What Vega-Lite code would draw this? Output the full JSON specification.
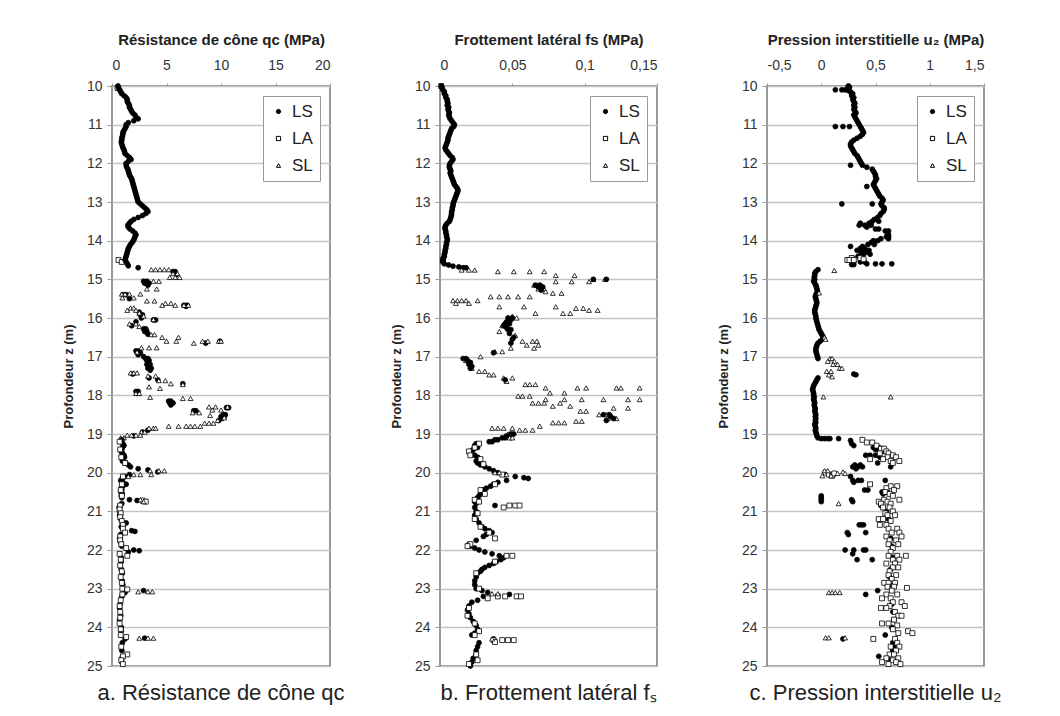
{
"$schema":"https://vega.github.io/schema/vega-lite/v6.json",
"background":"white",
"padding":{"left":61,"top":31,"right":5,"bottom":5},
"bounds":"flush",
"config":{
"font":"Liberation Sans",
"view":{"stroke":"#777","strokeWidth":1.5},
"axis":{"labelFont":"Liberation Sans","labelFontSize":14,"labelColor":"#333","titleFont":"Liberation Sans","titleFontSize":13,"titleFontWeight":"bold","titleColor":"#222","tickColor":"#999","domain":false},
"axisX":{"grid":false,"tickSize":3,"labelPadding":11,"titlePadding":11,"titleFontSize":15},
"axisY":{"grid":true,"gridColor":"#c4c4c4","gridWidth":1.5,"tickSize":5,"labelPadding":5,"titlePadding":11},
"legend":{"padding":7,"strokeColor":"#999","fillColor":"white","labelFont":"Liberation Sans","labelFontSize":17,"labelColor":"#222","symbolSize":18,"rowPadding":9,"symbolStrokeColor":"black","symbolStrokeWidth":1,"labelOffset":5,"cornerRadius":0},
"title":{"font":"Liberation Sans","fontSize":22,"fontWeight":"normal","color":"#222"}
},
"datasets":{
"a":[
{"s":"LA","z":10.05,"v":0.5},{"s":"LA","z":14.5,"v":0.6},{"s":"LA","z":14.55,"v":0.9},
{"s":"LS","z":10,"v":0.55},{"s":"LS","z":10.05,"v":0.6},{"s":"LS","z":10.1,"v":0.7},{"s":"LS","z":10.15,"v":0.8},{"s":"LS","z":10.2,"v":0.9},{"s":"LS","z":10.25,"v":1.1},{"s":"LS","z":10.3,"v":1.3},{"s":"LS","z":10.35,"v":1.4},{"s":"LS","z":10.4,"v":1.4},{"s":"LS","z":10.45,"v":1.5},{"s":"LS","z":10.5,"v":1.6},{"s":"LS","z":10.55,"v":1.6},{"s":"LS","z":10.6,"v":1.7},{"s":"LS","z":10.65,"v":1.8},{"s":"LS","z":10.7,"v":1.9},{"s":"LS","z":10.75,"v":2.1},{"s":"LS","z":10.8,"v":2.2},{"s":"LS","z":10.85,"v":2.4},{"s":"LS","z":10.9,"v":2.0},{"s":"LS","z":10.95,"v":1.5},{"s":"LS","z":11,"v":1.3},{"s":"LS","z":11.05,"v":1.3},{"s":"LS","z":11.1,"v":1.2},{"s":"LS","z":11.15,"v":1.1},{"s":"LS","z":11.2,"v":1.0},{"s":"LS","z":11.25,"v":1.0},{"s":"LS","z":11.3,"v":0.95},{"s":"LS","z":11.35,"v":0.9},{"s":"LS","z":11.4,"v":0.9},{"s":"LS","z":11.45,"v":0.85},{"s":"LS","z":11.5,"v":0.9},{"s":"LS","z":11.55,"v":0.95},{"s":"LS","z":11.6,"v":1.0},{"s":"LS","z":11.65,"v":1.1},{"s":"LS","z":11.7,"v":1.15},{"s":"LS","z":11.75,"v":1.2},{"s":"LS","z":11.8,"v":1.4},{"s":"LS","z":11.85,"v":1.6},{"s":"LS","z":11.9,"v":1.75},{"s":"LS","z":11.95,"v":1.5},{"s":"LS","z":12,"v":1.3},{"s":"LS","z":12.05,"v":1.3},{"s":"LS","z":12.1,"v":1.35},{"s":"LS","z":12.15,"v":1.45},{"s":"LS","z":12.2,"v":1.5},{"s":"LS","z":12.25,"v":1.55},{"s":"LS","z":12.3,"v":1.6},{"s":"LS","z":12.35,"v":1.7},{"s":"LS","z":12.4,"v":1.8},{"s":"LS","z":12.45,"v":1.85},{"s":"LS","z":12.5,"v":1.9},{"s":"LS","z":12.55,"v":1.95},{"s":"LS","z":12.6,"v":2.0},{"s":"LS","z":12.65,"v":2.05},{"s":"LS","z":12.7,"v":2.1},{"s":"LS","z":12.75,"v":2.15},{"s":"LS","z":12.8,"v":2.2},{"s":"LS","z":12.85,"v":2.25},{"s":"LS","z":12.9,"v":2.3},{"s":"LS","z":12.95,"v":2.35},{"s":"LS","z":13,"v":2.4},{"s":"LS","z":13.05,"v":2.6},{"s":"LS","z":13.1,"v":2.8},{"s":"LS","z":13.15,"v":3.0},{"s":"LS","z":13.2,"v":3.2},{"s":"LS","z":13.25,"v":3.3},{"s":"LS","z":13.3,"v":3.1},{"s":"LS","z":13.35,"v":2.8},{"s":"LS","z":13.4,"v":2.4},{"s":"LS","z":13.45,"v":2.0},{"s":"LS","z":13.5,"v":1.75},{"s":"LS","z":13.55,"v":1.6},{"s":"LS","z":13.6,"v":1.45},{"s":"LS","z":13.65,"v":1.5},{"s":"LS","z":13.7,"v":1.65},{"s":"LS","z":13.75,"v":1.9},{"s":"LS","z":13.8,"v":2.1},{"s":"LS","z":13.85,"v":2.2},{"s":"LS","z":13.9,"v":2.1},{"s":"LS","z":13.95,"v":2.05},{"s":"LS","z":14,"v":1.95},{"s":"LS","z":14.05,"v":1.85},{"s":"LS","z":14.1,"v":1.7},{"s":"LS","z":14.15,"v":1.6},{"s":"LS","z":14.2,"v":1.5},{"s":"LS","z":14.25,"v":1.45},{"s":"LS","z":14.3,"v":1.4},{"s":"LS","z":14.35,"v":1.35},{"s":"LS","z":14.4,"v":1.3},{"s":"LS","z":14.45,"v":1.25},{"s":"LS","z":14.5,"v":1.2},{"s":"LS","z":14.55,"v":1.3},{"s":"LS","z":14.6,"v":1.4},{"s":"LS","z":14.65,"v":1.5},{"s":"LS","z":14.7,"v":2.4},
{"s":"LS","z":14.8,"v":5.8},{"s":"LS","z":14.8,"v":5.6},{"s":"LS","z":14.88,"v":5.9},{"s":"LS","z":15.05,"v":2.9},{"s":"LS","z":15.05,"v":3.2},{"s":"LS","z":15.1,"v":3.0},{"s":"LS","z":15.1,"v":3.4},{"s":"LS","z":15.15,"v":3.3},{"s":"LS","z":15.4,"v":1.0},{"s":"LS","z":15.4,"v":1.3},{"s":"LS","z":15.5,"v":1.6},{"s":"LS","z":15.67,"v":6.6},{"s":"LS","z":15.67,"v":6.9},{"s":"LS","z":15.7,"v":6.8},{"s":"LS","z":15.85,"v":2.5},{"s":"LS","z":15.92,"v":2.6},{"s":"LS","z":15.92,"v":2.8},{"s":"LS","z":16,"v":2.7},{"s":"LS","z":16.05,"v":3.8},{"s":"LS","z":16.05,"v":4.0},{"s":"LS","z":16.1,"v":2.2},{"s":"LS","z":16.2,"v":1.8},{"s":"LS","z":16.28,"v":2.9},{"s":"LS","z":16.28,"v":3.1},{"s":"LS","z":16.35,"v":3.0},{"s":"LS","z":16.35,"v":3.2},{"s":"LS","z":16.42,"v":3.3},{"s":"LS","z":16.6,"v":9.9},{"s":"LS","z":16.65,"v":8.6},{"s":"LS","z":16.85,"v":2.2},{"s":"LS","z":16.85,"v":2.5},{"s":"LS","z":16.9,"v":2.3},{"s":"LS","z":16.9,"v":2.6},{"s":"LS","z":16.95,"v":2.4},{"s":"LS","z":17,"v":2.9},{"s":"LS","z":17.05,"v":3.1},{"s":"LS","z":17.05,"v":3.3},{"s":"LS","z":17.1,"v":3.2},{"s":"LS","z":17.1,"v":3.4},{"s":"LS","z":17.15,"v":3.3},{"s":"LS","z":17.2,"v":3.5},{"s":"LS","z":17.2,"v":3.2},{"s":"LS","z":17.25,"v":3.4},{"s":"LS","z":17.3,"v":3.6},{"s":"LS","z":17.3,"v":3.3},{"s":"LS","z":17.35,"v":3.5},{"s":"LS","z":17.45,"v":1.9},{"s":"LS","z":17.55,"v":3.4},{"s":"LS","z":17.6,"v":4.2},{"s":"LS","z":17.7,"v":6.5},{"s":"LS","z":17.9,"v":2.2},{"s":"LS","z":17.9,"v":2.4},{"s":"LS","z":17.95,"v":2.3},{"s":"LS","z":18.15,"v":5.2},{"s":"LS","z":18.15,"v":5.4},{"s":"LS","z":18.2,"v":5.3},{"s":"LS","z":18.2,"v":5.6},{"s":"LS","z":18.25,"v":5.4},{"s":"LS","z":18.32,"v":10.5},{"s":"LS","z":18.32,"v":10.7},{"s":"LS","z":18.4,"v":7.5},{"s":"LS","z":18.4,"v":7.7},{"s":"LS","z":18.5,"v":10.2},{"s":"LS","z":18.5,"v":10.4},{"s":"LS","z":18.55,"v":10.0},{"s":"LS","z":18.55,"v":10.3},{"s":"LS","z":18.6,"v":10.1},{"s":"LS","z":18.65,"v":9.8},{"s":"LS","z":18.9,"v":3.3},{"s":"LS","z":18.95,"v":2.8},{"s":"LS","z":19.05,"v":2.0},
{"s":"SL","z":14.75,"v":3.6},{"s":"SL","z":14.75,"v":4.0},{"s":"SL","z":14.75,"v":4.4},{"s":"SL","z":14.75,"v":4.8},{"s":"SL","z":14.75,"v":5.2},{"s":"SL","z":14.85,"v":5.6},{"s":"SL","z":14.85,"v":6.0},{"s":"SL","z":14.95,"v":5.3},{"s":"SL","z":14.95,"v":5.8},{"s":"SL","z":14.95,"v":6.2},{"s":"SL","z":15.05,"v":3.8},{"s":"SL","z":15.05,"v":4.3},{"s":"SL","z":15.25,"v":3.2},{"s":"SL","z":15.25,"v":4.1},{"s":"SL","z":15.38,"v":0.9},{"s":"SL","z":15.38,"v":1.2},{"s":"SL","z":15.38,"v":1.6},{"s":"SL","z":15.38,"v":2.6},{"s":"SL","z":15.48,"v":0.95},{"s":"SL","z":15.48,"v":2.0},{"s":"SL","z":15.56,"v":3.2},{"s":"SL","z":15.56,"v":3.9},{"s":"SL","z":15.62,"v":4.9},{"s":"SL","z":15.62,"v":5.4},{"s":"SL","z":15.67,"v":4.6},{"s":"SL","z":15.67,"v":5.8},{"s":"SL","z":15.67,"v":6.6},{"s":"SL","z":15.67,"v":7.0},{"s":"SL","z":15.74,"v":1.7},{"s":"SL","z":15.74,"v":2.0},{"s":"SL","z":15.8,"v":1.4},{"s":"SL","z":15.8,"v":2.2},{"s":"SL","z":15.87,"v":2.5},{"s":"SL","z":15.95,"v":2.9},{"s":"SL","z":16.04,"v":3.8},{"s":"SL","z":16.15,"v":1.6},{"s":"SL","z":16.15,"v":2.2},{"s":"SL","z":16.22,"v":2.5},{"s":"SL","z":16.43,"v":3.6},{"s":"SL","z":16.43,"v":3.9},{"s":"SL","z":16.5,"v":4.6},{"s":"SL","z":16.5,"v":6.1},{"s":"SL","z":16.6,"v":5.0},{"s":"SL","z":16.6,"v":5.9},{"s":"SL","z":16.6,"v":8.3},{"s":"SL","z":16.6,"v":8.8},{"s":"SL","z":16.6,"v":9.8},{"s":"SL","z":16.6,"v":10.0},{"s":"SL","z":16.65,"v":7.5},{"s":"SL","z":16.77,"v":2.7},{"s":"SL","z":16.77,"v":3.4},{"s":"SL","z":16.77,"v":4.1},{"s":"SL","z":16.88,"v":2.3},{"s":"SL","z":17.42,"v":1.7},{"s":"SL","z":17.42,"v":2.0},{"s":"SL","z":17.42,"v":2.3},{"s":"SL","z":17.5,"v":3.3},{"s":"SL","z":17.5,"v":4.0},{"s":"SL","z":17.62,"v":4.3},{"s":"SL","z":17.62,"v":4.9},{"s":"SL","z":17.7,"v":5.4},{"s":"SL","z":17.72,"v":6.5},{"s":"SL","z":17.78,"v":3.4},{"s":"SL","z":17.82,"v":4.4},{"s":"SL","z":17.95,"v":2.2},{"s":"SL","z":17.95,"v":2.5},{"s":"SL","z":18.05,"v":3.5},{"s":"SL","z":18.08,"v":6.5},{"s":"SL","z":18.08,"v":7.2},{"s":"SL","z":18.3,"v":8.9},{"s":"SL","z":18.3,"v":9.5},{"s":"SL","z":18.3,"v":10.6},{"s":"SL","z":18.38,"v":9.2},{"s":"SL","z":18.38,"v":10.0},{"s":"SL","z":18.45,"v":7.4},{"s":"SL","z":18.45,"v":8.0},{"s":"SL","z":18.52,"v":9.0},{"s":"SL","z":18.58,"v":10.3},{"s":"SL","z":18.65,"v":9.7},{"s":"SL","z":18.72,"v":8.5},{"s":"SL","z":18.72,"v":8.9},{"s":"SL","z":18.72,"v":9.3},{"s":"SL","z":18.8,"v":5.2},{"s":"SL","z":18.8,"v":6.1},{"s":"SL","z":18.8,"v":6.8},{"s":"SL","z":18.8,"v":7.2},{"s":"SL","z":18.8,"v":7.6},{"s":"SL","z":18.8,"v":8.1},{"s":"SL","z":18.85,"v":3.4},{"s":"SL","z":18.85,"v":3.8},{"s":"SL","z":18.85,"v":4.0},{"s":"SL","z":18.95,"v":2.7},{"s":"SL","z":18.95,"v":3.0},{"s":"SL","z":19.03,"v":1.4},{"s":"SL","z":19.03,"v":1.8},{"s":"SL","z":19.03,"v":2.2},{"s":"SL","z":19.03,"v":2.6},{"s":"SL","z":19.1,"v":0.8},{"s":"SL","z":19.1,"v":1.1},
{"s":"LS","z":19.15,"v":0.9},{"s":"LS","z":19.2,"v":0.85},{"s":"LS","z":19.25,"v":1.0},{"s":"LS","z":19.3,"v":1.1},{"s":"LS","z":19.35,"v":0.95},{"s":"LS","z":19.4,"v":0.9},{"s":"LS","z":19.45,"v":0.85},{"s":"LS","z":19.5,"v":0.95},{"s":"LS","z":19.55,"v":1.1},{"s":"LS","z":19.6,"v":1.15},{"s":"LS","z":19.65,"v":1.0},{"s":"LS","z":19.7,"v":0.95},{"s":"LS","z":19.75,"v":1.25},{"s":"LS","z":19.8,"v":1.5},{"s":"LS","z":19.85,"v":1.7},{"s":"LS","z":19.9,"v":2.4},{"s":"LS","z":19.93,"v":3.3},{"s":"LS","z":19.98,"v":4.2},{"s":"LS","z":20.05,"v":1.6},{"s":"LS","z":20.1,"v":1.2},{"s":"LS","z":20.15,"v":0.95},{"s":"LS","z":20.2,"v":0.8},{"s":"LS","z":20.25,"v":1.0},{"s":"LS","z":20.3,"v":1.3},{"s":"LS","z":20.35,"v":1.0},{"s":"LS","z":20.4,"v":0.85},{"s":"LS","z":20.45,"v":0.9},{"s":"LS","z":20.5,"v":0.8},{"s":"LS","z":20.55,"v":0.95},{"s":"LS","z":20.6,"v":0.85},{"s":"LS","z":20.65,"v":0.9},{"s":"LS","z":20.7,"v":1.6},{"s":"LS","z":20.72,"v":2.3},{"s":"LS","z":20.8,"v":0.9},{"s":"LS","z":20.9,"v":0.65},{"s":"LS","z":21,"v":0.7},{"s":"LS","z":21.1,"v":0.7},{"s":"LS","z":21.2,"v":0.8},{"s":"LS","z":21.3,"v":1.3},{"s":"LS","z":21.4,"v":0.85},{"s":"LS","z":21.5,"v":1.8},{"s":"LS","z":21.52,"v":2.1},{"s":"LS","z":21.6,"v":0.8},{"s":"LS","z":21.7,"v":0.7},{"s":"LS","z":21.8,"v":0.8},{"s":"LS","z":21.9,"v":0.9},{"s":"LS","z":22,"v":2.0},{"s":"LS","z":22.02,"v":2.5},{"s":"LS","z":22.05,"v":1.5},{"s":"LS","z":22.2,"v":0.85},{"s":"LS","z":22.3,"v":0.85},{"s":"LS","z":22.5,"v":0.85},{"s":"LS","z":22.6,"v":0.95},{"s":"LS","z":22.8,"v":0.95},{"s":"LS","z":22.9,"v":1.0},{"s":"LS","z":23.05,"v":2.9},{"s":"LS","z":23.1,"v":1.2},{"s":"LS","z":23.2,"v":0.9},{"s":"LS","z":23.4,"v":0.75},{"s":"LS","z":23.5,"v":0.7},{"s":"LS","z":23.7,"v":0.8},{"s":"LS","z":23.8,"v":0.7},{"s":"LS","z":24,"v":0.85},{"s":"LS","z":24.1,"v":0.85},{"s":"LS","z":24.3,"v":1.2},{"s":"LS","z":24.28,"v":3.0},{"s":"LS","z":24.4,"v":0.95},{"s":"LS","z":24.6,"v":0.9},{"s":"LS","z":24.8,"v":0.9},{"s":"LS","z":24.9,"v":0.9},
{"s":"LA","z":19.2,"v":0.7},{"s":"LA","z":19.4,"v":0.75},{"s":"LA","z":19.6,"v":0.85},{"s":"LA","z":19.75,"v":1.2},{"s":"LA","z":20.1,"v":1.0},{"s":"LA","z":20.3,"v":0.9},{"s":"LA","z":20.45,"v":0.8},{"s":"LA","z":20.6,"v":0.9},{"s":"LA","z":20.72,"v":2.8},{"s":"LA","z":20.75,"v":3.1},{"s":"LA","z":20.85,"v":0.75},{"s":"LA","z":20.95,"v":0.7},{"s":"LA","z":21.05,"v":0.8},{"s":"LA","z":21.15,"v":0.75},{"s":"LA","z":21.25,"v":0.9},{"s":"LA","z":21.35,"v":1.0},{"s":"LA","z":21.45,"v":1.0},{"s":"LA","z":21.55,"v":1.2},{"s":"LA","z":21.65,"v":0.75},{"s":"LA","z":21.75,"v":0.75},{"s":"LA","z":21.85,"v":0.85},{"s":"LA","z":21.95,"v":1.3},{"s":"LA","z":22.1,"v":0.7},{"s":"LA","z":22.15,"v":1.4},{"s":"LA","z":22.25,"v":0.8},{"s":"LA","z":22.4,"v":0.75},{"s":"LA","z":22.55,"v":0.9},{"s":"LA","z":22.7,"v":0.8},{"s":"LA","z":22.85,"v":0.9},{"s":"LA","z":23,"v":0.95},{"s":"LA","z":23.02,"v":1.4},{"s":"LA","z":23.15,"v":0.95},{"s":"LA","z":23.3,"v":0.8},{"s":"LA","z":23.45,"v":0.7},{"s":"LA","z":23.6,"v":0.75},{"s":"LA","z":23.75,"v":0.75},{"s":"LA","z":23.9,"v":0.7},{"s":"LA","z":24.05,"v":0.8},{"s":"LA","z":24.2,"v":0.8},{"s":"LA","z":24.25,"v":1.3},{"s":"LA","z":24.5,"v":0.85},{"s":"LA","z":24.7,"v":1.4},{"s":"LA","z":24.75,"v":1.0},{"s":"LA","z":24.85,"v":0.85},{"s":"LA","z":24.95,"v":1.0},
{"s":"SL","z":19.95,"v":3.5},{"s":"SL","z":19.95,"v":4.3},{"s":"SL","z":19.95,"v":4.8},{"s":"SL","z":20.05,"v":2.0},{"s":"SL","z":20.05,"v":2.6},{"s":"SL","z":20.05,"v":3.6},{"s":"SL","z":20.1,"v":1.5},{"s":"SL","z":20.7,"v":2.6},{"s":"SL","z":20.75,"v":2.9},{"s":"SL","z":23.08,"v":2.4},{"s":"SL","z":23.08,"v":3.3},{"s":"SL","z":23.08,"v":3.7},{"s":"SL","z":24.28,"v":2.5},{"s":"SL","z":24.28,"v":3.3},{"s":"SL","z":24.28,"v":3.8}
],
"b":[
{"s":"LA","z":10,"v":0.0008},{"s":"LA","z":14.5,"v":0.002},
{"s":"LS","z":10,"v":0.001},{"s":"LS","z":10.05,"v":0.0015},{"s":"LS","z":10.1,"v":0.002},{"s":"LS","z":10.15,"v":0.003},{"s":"LS","z":10.2,"v":0.003},{"s":"LS","z":10.25,"v":0.004},{"s":"LS","z":10.3,"v":0.004},{"s":"LS","z":10.35,"v":0.005},{"s":"LS","z":10.4,"v":0.005},{"s":"LS","z":10.45,"v":0.0055},{"s":"LS","z":10.5,"v":0.005},{"s":"LS","z":10.55,"v":0.006},{"s":"LS","z":10.6,"v":0.0055},{"s":"LS","z":10.65,"v":0.006},{"s":"LS","z":10.7,"v":0.0065},{"s":"LS","z":10.75,"v":0.006},{"s":"LS","z":10.8,"v":0.0065},{"s":"LS","z":10.85,"v":0.007},{"s":"LS","z":10.9,"v":0.008},{"s":"LS","z":10.95,"v":0.009},{"s":"LS","z":11,"v":0.01},{"s":"LS","z":11.05,"v":0.0095},{"s":"LS","z":11.1,"v":0.008},{"s":"LS","z":11.15,"v":0.0075},{"s":"LS","z":11.2,"v":0.007},{"s":"LS","z":11.25,"v":0.0065},{"s":"LS","z":11.3,"v":0.006},{"s":"LS","z":11.35,"v":0.0055},{"s":"LS","z":11.4,"v":0.0055},{"s":"LS","z":11.45,"v":0.005},{"s":"LS","z":11.5,"v":0.0045},{"s":"LS","z":11.55,"v":0.004},{"s":"LS","z":11.6,"v":0.0035},{"s":"LS","z":11.65,"v":0.004},{"s":"LS","z":11.7,"v":0.005},{"s":"LS","z":11.75,"v":0.006},{"s":"LS","z":11.8,"v":0.007},{"s":"LS","z":11.85,"v":0.0085},{"s":"LS","z":11.9,"v":0.009},{"s":"LS","z":11.95,"v":0.008},{"s":"LS","z":12,"v":0.007},{"s":"LS","z":12.05,"v":0.0065},{"s":"LS","z":12.1,"v":0.0065},{"s":"LS","z":12.15,"v":0.007},{"s":"LS","z":12.2,"v":0.0075},{"s":"LS","z":12.25,"v":0.007},{"s":"LS","z":12.3,"v":0.0075},{"s":"LS","z":12.35,"v":0.008},{"s":"LS","z":12.4,"v":0.0085},{"s":"LS","z":12.45,"v":0.009},{"s":"LS","z":12.5,"v":0.0095},{"s":"LS","z":12.55,"v":0.01},{"s":"LS","z":12.6,"v":0.011},{"s":"LS","z":12.65,"v":0.012},{"s":"LS","z":12.7,"v":0.0125},{"s":"LS","z":12.75,"v":0.012},{"s":"LS","z":12.8,"v":0.0115},{"s":"LS","z":12.85,"v":0.011},{"s":"LS","z":12.9,"v":0.0105},{"s":"LS","z":12.95,"v":0.01},{"s":"LS","z":13,"v":0.0095},{"s":"LS","z":13.05,"v":0.009},{"s":"LS","z":13.1,"v":0.009},{"s":"LS","z":13.15,"v":0.0085},{"s":"LS","z":13.2,"v":0.0085},{"s":"LS","z":13.25,"v":0.008},{"s":"LS","z":13.3,"v":0.008},{"s":"LS","z":13.35,"v":0.0078},{"s":"LS","z":13.4,"v":0.0075},{"s":"LS","z":13.45,"v":0.007},{"s":"LS","z":13.5,"v":0.0065},{"s":"LS","z":13.55,"v":0.005},{"s":"LS","z":13.6,"v":0.004},{"s":"LS","z":13.65,"v":0.0035},{"s":"LS","z":13.7,"v":0.0035},{"s":"LS","z":13.75,"v":0.004},{"s":"LS","z":13.8,"v":0.004},{"s":"LS","z":13.85,"v":0.0045},{"s":"LS","z":13.9,"v":0.0045},{"s":"LS","z":13.95,"v":0.005},{"s":"LS","z":14,"v":0.005},{"s":"LS","z":14.05,"v":0.0045},{"s":"LS","z":14.1,"v":0.0045},{"s":"LS","z":14.15,"v":0.004},{"s":"LS","z":14.2,"v":0.004},{"s":"LS","z":14.25,"v":0.0035},{"s":"LS","z":14.3,"v":0.0035},{"s":"LS","z":14.35,"v":0.003},{"s":"LS","z":14.4,"v":0.003},{"s":"LS","z":14.45,"v":0.0025},{"s":"LS","z":14.5,"v":0.002},{"s":"LS","z":14.55,"v":0.002},{"s":"LS","z":14.6,"v":0.003},{"s":"LS","z":14.63,"v":0.006},{"s":"LS","z":14.66,"v":0.009},{"s":"LS","z":14.68,"v":0.013},{"s":"LS","z":14.7,"v":0.016},{"s":"LS","z":14.7,"v":0.018},
{"s":"SL","z":14.76,"v":0.015},{"s":"SL","z":14.76,"v":0.02},{"s":"SL","z":14.76,"v":0.024},{"s":"SL","z":14.8,"v":0.04},{"s":"SL","z":14.8,"v":0.051},{"s":"SL","z":14.8,"v":0.062},{"s":"SL","z":14.8,"v":0.072},{"s":"SL","z":14.9,"v":0.08},{"s":"SL","z":14.9,"v":0.093},{"s":"SL","z":15,"v":0.106},{"s":"SL","z":15,"v":0.114},{"s":"SL","z":15.06,"v":0.08},{"s":"SL","z":15.06,"v":0.091},{"s":"SL","z":15.06,"v":0.103},{"s":"SL","z":15.15,"v":0.065},{"s":"SL","z":15.15,"v":0.07},{"s":"SL","z":15.25,"v":0.068},{"s":"SL","z":15.25,"v":0.072},{"s":"SL","z":15.32,"v":0.073},{"s":"SL","z":15.36,"v":0.078},{"s":"SL","z":15.36,"v":0.084},{"s":"SL","z":15.45,"v":0.035},{"s":"SL","z":15.45,"v":0.041},{"s":"SL","z":15.45,"v":0.047},{"s":"SL","z":15.45,"v":0.054},{"s":"SL","z":15.45,"v":0.062},{"s":"SL","z":15.55,"v":0.009},{"s":"SL","z":15.55,"v":0.012},{"s":"SL","z":15.55,"v":0.015},{"s":"SL","z":15.55,"v":0.018},{"s":"SL","z":15.55,"v":0.026},{"s":"SL","z":15.62,"v":0.011},{"s":"SL","z":15.62,"v":0.02},{"s":"SL","z":15.71,"v":0.041},{"s":"SL","z":15.71,"v":0.058},{"s":"SL","z":15.71,"v":0.08},{"s":"SL","z":15.75,"v":0.094},{"s":"SL","z":15.75,"v":0.099},{"s":"SL","z":15.8,"v":0.103},{"s":"SL","z":15.8,"v":0.109},{"s":"SL","z":15.88,"v":0.066},{"s":"SL","z":15.88,"v":0.085},{"s":"SL","z":15.88,"v":0.09},{"s":"SL","z":15.95,"v":0.05},{"s":"SL","z":16,"v":0.053},{"s":"SL","z":16.2,"v":0.043},{"s":"SL","z":16.35,"v":0.041},{"s":"SL","z":16.45,"v":0.052},{"s":"SL","z":16.6,"v":0.057},{"s":"SL","z":16.6,"v":0.064},{"s":"SL","z":16.6,"v":0.067},{"s":"SL","z":16.7,"v":0.06},{"s":"SL","z":16.7,"v":0.068},{"s":"SL","z":16.78,"v":0.049},{"s":"SL","z":16.78,"v":0.065},{"s":"SL","z":16.87,"v":0.038},{"s":"SL","z":16.87,"v":0.043},{"s":"SL","z":17,"v":0.028},{"s":"SL","z":17.1,"v":0.018},{"s":"SL","z":17.3,"v":0.022},{"s":"SL","z":17.38,"v":0.027},{"s":"SL","z":17.38,"v":0.031},{"s":"SL","z":17.47,"v":0.034},{"s":"SL","z":17.47,"v":0.037},{"s":"SL","z":17.55,"v":0.044},{"s":"SL","z":17.55,"v":0.05},{"s":"SL","z":17.64,"v":0.046},{"s":"SL","z":17.72,"v":0.059},{"s":"SL","z":17.72,"v":0.062},{"s":"SL","z":17.72,"v":0.066},{"s":"SL","z":17.81,"v":0.073},{"s":"SL","z":17.81,"v":0.095},{"s":"SL","z":17.81,"v":0.101},{"s":"SL","z":17.81,"v":0.122},{"s":"SL","z":17.81,"v":0.125},{"s":"SL","z":17.81,"v":0.138},{"s":"SL","z":17.94,"v":0.076},{"s":"SL","z":17.94,"v":0.086},{"s":"SL","z":18.02,"v":0.054},{"s":"SL","z":18.02,"v":0.057},{"s":"SL","z":18.02,"v":0.062},{"s":"SL","z":18.11,"v":0.073},{"s":"SL","z":18.11,"v":0.086},{"s":"SL","z":18.11,"v":0.098},{"s":"SL","z":18.11,"v":0.113},{"s":"SL","z":18.11,"v":0.13},{"s":"SL","z":18.11,"v":0.138},{"s":"SL","z":18.2,"v":0.064},{"s":"SL","z":18.2,"v":0.068},{"s":"SL","z":18.2,"v":0.072},{"s":"SL","z":18.2,"v":0.083},{"s":"SL","z":18.28,"v":0.078},{"s":"SL","z":18.28,"v":0.09},{"s":"SL","z":18.33,"v":0.12},{"s":"SL","z":18.33,"v":0.13},{"s":"SL","z":18.41,"v":0.097},{"s":"SL","z":18.41,"v":0.101},{"s":"SL","z":18.5,"v":0.11},{"s":"SL","z":18.5,"v":0.115},{"s":"SL","z":18.6,"v":0.116},{"s":"SL","z":18.6,"v":0.122},{"s":"SL","z":18.67,"v":0.094},{"s":"SL","z":18.67,"v":0.098},{"s":"SL","z":18.71,"v":0.078},{"s":"SL","z":18.71,"v":0.082},{"s":"SL","z":18.71,"v":0.086},{"s":"SL","z":18.8,"v":0.069},{"s":"SL","z":18.85,"v":0.036},{"s":"SL","z":18.85,"v":0.04},{"s":"SL","z":18.85,"v":0.044},{"s":"SL","z":18.85,"v":0.05},{"s":"SL","z":18.9,"v":0.055},{"s":"SL","z":18.9,"v":0.059},{"s":"SL","z":18.9,"v":0.064},{"s":"SL","z":19,"v":0.047},{"s":"SL","z":19.1,"v":0.048},
{"s":"LS","z":15,"v":0.106},{"s":"LS","z":15,"v":0.115},{"s":"LS","z":15.15,"v":0.066},{"s":"LS","z":15.15,"v":0.069},{"s":"LS","z":15.2,"v":0.068},{"s":"LS","z":15.2,"v":0.071},{"s":"LS","z":15.28,"v":0.07},{"s":"LS","z":16,"v":0.047},{"s":"LS","z":16,"v":0.05},{"s":"LS","z":16.05,"v":0.049},{"s":"LS","z":16.1,"v":0.046},{"s":"LS","z":16.15,"v":0.045},{"s":"LS","z":16.15,"v":0.048},{"s":"LS","z":16.2,"v":0.044},{"s":"LS","z":16.25,"v":0.046},{"s":"LS","z":16.3,"v":0.047},{"s":"LS","z":16.3,"v":0.049},{"s":"LS","z":16.4,"v":0.048},{"s":"LS","z":16.5,"v":0.051},{"s":"LS","z":16.55,"v":0.05},{"s":"LS","z":16.65,"v":0.049},{"s":"LS","z":16.9,"v":0.037},{"s":"LS","z":17.05,"v":0.016},{"s":"LS","z":17.05,"v":0.018},{"s":"LS","z":17.1,"v":0.019},{"s":"LS","z":17.15,"v":0.02},{"s":"LS","z":17.15,"v":0.021},{"s":"LS","z":17.2,"v":0.02},{"s":"LS","z":17.25,"v":0.022},{"s":"LS","z":17.3,"v":0.021},{"s":"LS","z":17.6,"v":0.045},{"s":"LS","z":18.5,"v":0.113},{"s":"LS","z":18.5,"v":0.117},{"s":"LS","z":18.55,"v":0.118},{"s":"LS","z":18.6,"v":0.12},{"s":"LS","z":18.65,"v":0.115},{"s":"LS","z":19,"v":0.049},{"s":"LS","z":19,"v":0.051},{"s":"LS","z":19.05,"v":0.046},{"s":"LS","z":19.1,"v":0.045},{"s":"LS","z":19.1,"v":0.043},{"s":"LS","z":19.15,"v":0.038},{"s":"LS","z":19.15,"v":0.04},{"s":"LS","z":19.2,"v":0.034},{"s":"LS","z":19.2,"v":0.036},
{"s":"LS","z":19.25,"v":0.025},{"s":"LS","z":19.3,"v":0.024},{"s":"LS","z":19.35,"v":0.026},{"s":"LS","z":19.4,"v":0.023},{"s":"LS","z":19.45,"v":0.021},{"s":"LS","z":19.5,"v":0.022},{"s":"LS","z":19.55,"v":0.024},{"s":"LS","z":19.6,"v":0.026},{"s":"LS","z":19.65,"v":0.027},{"s":"LS","z":19.7,"v":0.025},{"s":"LS","z":19.75,"v":0.026},{"s":"LS","z":19.8,"v":0.028},{"s":"LS","z":19.85,"v":0.031},{"s":"LS","z":19.9,"v":0.034},{"s":"LS","z":19.95,"v":0.037},{"s":"LS","z":20,"v":0.04},{"s":"LS","z":20.05,"v":0.045},{"s":"LS","z":20.1,"v":0.052},{"s":"LS","z":20.13,"v":0.058},{"s":"LS","z":20.15,"v":0.061},{"s":"LS","z":20.2,"v":0.046},{"s":"LS","z":20.25,"v":0.04},{"s":"LS","z":20.3,"v":0.037},{"s":"LS","z":20.35,"v":0.035},{"s":"LS","z":20.4,"v":0.032},{"s":"LS","z":20.45,"v":0.03},{"s":"LS","z":20.5,"v":0.029},{"s":"LS","z":20.55,"v":0.028},{"s":"LS","z":20.6,"v":0.027},{"s":"LS","z":20.65,"v":0.026},{"s":"LS","z":20.7,"v":0.025},{"s":"LS","z":20.75,"v":0.024},{"s":"LS","z":20.8,"v":0.025},{"s":"LS","z":20.85,"v":0.038},{"s":"LS","z":20.9,"v":0.024},{"s":"LS","z":21,"v":0.025},{"s":"LS","z":21.1,"v":0.024},{"s":"LS","z":21.2,"v":0.025},{"s":"LS","z":21.3,"v":0.027},{"s":"LS","z":21.4,"v":0.029},{"s":"LS","z":21.45,"v":0.031},{"s":"LS","z":21.5,"v":0.034},{"s":"LS","z":21.55,"v":0.036},{"s":"LS","z":21.6,"v":0.032},{"s":"LS","z":21.65,"v":0.03},{"s":"LS","z":21.75,"v":0.025},{"s":"LS","z":21.85,"v":0.02},{"s":"LS","z":21.9,"v":0.021},{"s":"LS","z":21.95,"v":0.024},{"s":"LS","z":22,"v":0.027},{"s":"LS","z":22.05,"v":0.031},{"s":"LS","z":22.1,"v":0.036},{"s":"LS","z":22.15,"v":0.041},{"s":"LS","z":22.2,"v":0.044},{"s":"LS","z":22.25,"v":0.042},{"s":"LS","z":22.3,"v":0.039},{"s":"LS","z":22.35,"v":0.037},{"s":"LS","z":22.4,"v":0.034},{"s":"LS","z":22.45,"v":0.031},{"s":"LS","z":22.5,"v":0.029},{"s":"LS","z":22.55,"v":0.028},{"s":"LS","z":22.6,"v":0.026},{"s":"LS","z":22.7,"v":0.025},{"s":"LS","z":22.8,"v":0.024},{"s":"LS","z":22.9,"v":0.024},{"s":"LS","z":23,"v":0.025},{"s":"LS","z":23.05,"v":0.029},{"s":"LS","z":23.1,"v":0.033},{"s":"LS","z":23.15,"v":0.048},{"s":"LS","z":23.2,"v":0.03},{"s":"LS","z":23.3,"v":0.026},{"s":"LS","z":23.35,"v":0.022},{"s":"LS","z":23.45,"v":0.02},{"s":"LS","z":23.55,"v":0.019},{"s":"LS","z":23.65,"v":0.02},{"s":"LS","z":23.75,"v":0.021},{"s":"LS","z":23.85,"v":0.023},{"s":"LS","z":23.95,"v":0.025},{"s":"LS","z":24.05,"v":0.026},{"s":"LS","z":24.15,"v":0.024},{"s":"LS","z":24.2,"v":0.022},{"s":"LS","z":24.3,"v":0.037},{"s":"LS","z":24.4,"v":0.027},{"s":"LS","z":24.5,"v":0.026},{"s":"LS","z":24.6,"v":0.025},{"s":"LS","z":24.7,"v":0.025},{"s":"LS","z":24.8,"v":0.023},{"s":"LS","z":24.9,"v":0.022},{"s":"LS","z":25,"v":0.021},
{"s":"LA","z":19.25,"v":0.027},{"s":"LA","z":19.35,"v":0.024},{"s":"LA","z":19.45,"v":0.02},{"s":"LA","z":19.55,"v":0.021},{"s":"LA","z":19.65,"v":0.028},{"s":"LA","z":19.78,"v":0.03},{"s":"LA","z":20.05,"v":0.043},{"s":"LA","z":20.3,"v":0.038},{"s":"LA","z":20.45,"v":0.028},{"s":"LA","z":20.55,"v":0.031},{"s":"LA","z":20.7,"v":0.024},{"s":"LA","z":20.75,"v":0.027},{"s":"LA","z":20.85,"v":0.048},{"s":"LA","z":20.85,"v":0.052},{"s":"LA","z":20.85,"v":0.055},{"s":"LA","z":20.9,"v":0.044},{"s":"LA","z":21.05,"v":0.026},{"s":"LA","z":21.2,"v":0.024},{"s":"LA","z":21.4,"v":0.028},{"s":"LA","z":21.55,"v":0.034},{"s":"LA","z":21.7,"v":0.038},{"s":"LA","z":21.85,"v":0.021},{"s":"LA","z":21.9,"v":0.019},{"s":"LA","z":22.15,"v":0.046},{"s":"LA","z":22.15,"v":0.05},{"s":"LA","z":22.3,"v":0.038},{"s":"LA","z":22.6,"v":0.025},{"s":"LA","z":23,"v":0.027},{"s":"LA","z":23.2,"v":0.04},{"s":"LA","z":23.2,"v":0.045},{"s":"LA","z":23.2,"v":0.053},{"s":"LA","z":23.2,"v":0.056},{"s":"LA","z":23.25,"v":0.033},{"s":"LA","z":23.5,"v":0.02},{"s":"LA","z":23.7,"v":0.019},{"s":"LA","z":23.9,"v":0.024},{"s":"LA","z":24.1,"v":0.027},{"s":"LA","z":24.2,"v":0.024},{"s":"LA","z":24.33,"v":0.037},{"s":"LA","z":24.33,"v":0.043},{"s":"LA","z":24.33,"v":0.047},{"s":"LA","z":24.33,"v":0.051},{"s":"LA","z":24.38,"v":0.038},{"s":"LA","z":24.7,"v":0.025},{"s":"LA","z":24.85,"v":0.026},{"s":"LA","z":24.95,"v":0.02},
{"s":"SL","z":19.1,"v":0.05},{"s":"SL","z":20,"v":0.038},{"s":"SL","z":20,"v":0.041},{"s":"SL","z":20.05,"v":0.046},{"s":"SL","z":23.13,"v":0.036},{"s":"SL","z":23.13,"v":0.04},{"s":"SL","z":24.3,"v":0.036}
],
"c":[
{"s":"LA","z":10.05,"v":0.25},
{"s":"LS","z":10,"v":0.25},{"s":"LS","z":10.03,"v":0.26},{"s":"LS","z":10.1,"v":0.13},{"s":"LS","z":10.1,"v":0.19},{"s":"LS","z":10.1,"v":0.22},{"s":"LS","z":10.12,"v":0.25},{"s":"LS","z":10.15,"v":0.27},{"s":"LS","z":10.2,"v":0.29},{"s":"LS","z":10.25,"v":0.28},{"s":"LS","z":10.3,"v":0.3},{"s":"LS","z":10.35,"v":0.29},{"s":"LS","z":10.4,"v":0.3},{"s":"LS","z":10.45,"v":0.31},{"s":"LS","z":10.5,"v":0.3},{"s":"LS","z":10.55,"v":0.31},{"s":"LS","z":10.6,"v":0.3},{"s":"LS","z":10.65,"v":0.31},{"s":"LS","z":10.7,"v":0.32},{"s":"LS","z":10.75,"v":0.3},{"s":"LS","z":10.8,"v":0.31},{"s":"LS","z":10.85,"v":0.32},{"s":"LS","z":10.9,"v":0.33},{"s":"LS","z":10.95,"v":0.34},{"s":"LS","z":11,"v":0.35},{"s":"LS","z":11.05,"v":0.13},{"s":"LS","z":11.05,"v":0.2},{"s":"LS","z":11.05,"v":0.26},{"s":"LS","z":11.05,"v":0.36},{"s":"LS","z":11.1,"v":0.37},{"s":"LS","z":11.15,"v":0.38},{"s":"LS","z":11.2,"v":0.39},{"s":"LS","z":11.25,"v":0.38},{"s":"LS","z":11.3,"v":0.36},{"s":"LS","z":11.35,"v":0.33},{"s":"LS","z":11.4,"v":0.3},{"s":"LS","z":11.45,"v":0.28},{"s":"LS","z":11.5,"v":0.27},{"s":"LS","z":11.55,"v":0.27},{"s":"LS","z":11.6,"v":0.28},{"s":"LS","z":11.65,"v":0.29},{"s":"LS","z":11.7,"v":0.3},{"s":"LS","z":11.75,"v":0.31},{"s":"LS","z":11.8,"v":0.33},{"s":"LS","z":11.85,"v":0.34},{"s":"LS","z":11.9,"v":0.35},{"s":"LS","z":11.95,"v":0.36},{"s":"LS","z":12,"v":0.37},{"s":"LS","z":12.05,"v":0.27},{"s":"LS","z":12.05,"v":0.38},{"s":"LS","z":12.1,"v":0.42},{"s":"LS","z":12.15,"v":0.47},{"s":"LS","z":12.2,"v":0.48},{"s":"LS","z":12.25,"v":0.49},{"s":"LS","z":12.3,"v":0.5},{"s":"LS","z":12.35,"v":0.5},{"s":"LS","z":12.4,"v":0.51},{"s":"LS","z":12.45,"v":0.5},{"s":"LS","z":12.5,"v":0.49},{"s":"LS","z":12.55,"v":0.48},{"s":"LS","z":12.6,"v":0.42},{"s":"LS","z":12.6,"v":0.49},{"s":"LS","z":12.65,"v":0.5},{"s":"LS","z":12.7,"v":0.51},{"s":"LS","z":12.75,"v":0.52},{"s":"LS","z":12.8,"v":0.53},{"s":"LS","z":12.85,"v":0.54},{"s":"LS","z":12.9,"v":0.56},{"s":"LS","z":12.95,"v":0.57},{"s":"LS","z":13,"v":0.56},{"s":"LS","z":13.05,"v":0.19},{"s":"LS","z":13.05,"v":0.47},{"s":"LS","z":13.05,"v":0.55},{"s":"LS","z":13.1,"v":0.56},{"s":"LS","z":13.15,"v":0.58},{"s":"LS","z":13.2,"v":0.58},{"s":"LS","z":13.25,"v":0.57},{"s":"LS","z":13.3,"v":0.55},{"s":"LS","z":13.35,"v":0.54},{"s":"LS","z":13.4,"v":0.52},{"s":"LS","z":13.45,"v":0.49},{"s":"LS","z":13.5,"v":0.47},{"s":"LS","z":13.5,"v":0.53},{"s":"LS","z":13.55,"v":0.36},{"s":"LS","z":13.55,"v":0.44},{"s":"LS","z":13.6,"v":0.35},{"s":"LS","z":13.6,"v":0.4},{"s":"LS","z":13.6,"v":0.46},{"s":"LS","z":13.65,"v":0.42},{"s":"LS","z":13.7,"v":0.5},{"s":"LS","z":13.7,"v":0.53},{"s":"LS","z":13.75,"v":0.59},{"s":"LS","z":13.75,"v":0.62},{"s":"LS","z":13.8,"v":0.61},{"s":"LS","z":13.85,"v":0.62},{"s":"LS","z":13.9,"v":0.6},{"s":"LS","z":13.9,"v":0.62},{"s":"LS","z":13.95,"v":0.55},{"s":"LS","z":13.95,"v":0.62},{"s":"LS","z":14,"v":0.48},{"s":"LS","z":14,"v":0.52},{"s":"LS","z":14.05,"v":0.46},{"s":"LS","z":14.1,"v":0.43},{"s":"LS","z":14.1,"v":0.49},{"s":"LS","z":14.15,"v":0.27},{"s":"LS","z":14.15,"v":0.38},{"s":"LS","z":14.2,"v":0.36},{"s":"LS","z":14.2,"v":0.4},{"s":"LS","z":14.25,"v":0.33},{"s":"LS","z":14.25,"v":0.44},{"s":"LS","z":14.3,"v":0.37},{"s":"LS","z":14.3,"v":0.41},{"s":"LS","z":14.35,"v":0.39},{"s":"LS","z":14.35,"v":0.45},{"s":"LS","z":14.4,"v":0.34},{"s":"LS","z":14.45,"v":0.29},{"s":"LS","z":14.55,"v":0.3},{"s":"LS","z":14.55,"v":0.36},{"s":"LS","z":14.55,"v":0.4},{"s":"LS","z":14.6,"v":0.42},{"s":"LS","z":14.6,"v":0.5},{"s":"LS","z":14.6,"v":0.56},{"s":"LS","z":14.6,"v":0.65},{"s":"LS","z":14.62,"v":0.28},{"s":"LS","z":14.62,"v":0.3},
{"s":"LA","z":14.45,"v":0.28},{"s":"LA","z":14.45,"v":0.36},{"s":"LA","z":14.5,"v":0.24},{"s":"LA","z":14.5,"v":0.26},{"s":"LA","z":14.5,"v":0.3},{"s":"LA","z":14.48,"v":0.39},
{"s":"LS","z":14.75,"v":-0.03},{"s":"LS","z":14.8,"v":-0.05},{"s":"LS","z":14.85,"v":-0.06},{"s":"LS","z":14.9,"v":-0.06},{"s":"LS","z":14.95,"v":-0.065},{"s":"LS","z":15,"v":-0.06},{"s":"LS","z":15.05,"v":-0.07},{"s":"LS","z":15.1,"v":-0.06},{"s":"LS","z":15.15,"v":-0.05},{"s":"LS","z":15.2,"v":-0.045},{"s":"LS","z":15.25,"v":-0.04},{"s":"LS","z":15.3,"v":-0.035},{"s":"LS","z":15.35,"v":-0.04},{"s":"LS","z":15.4,"v":-0.05},{"s":"LS","z":15.45,"v":-0.055},{"s":"LS","z":15.5,"v":-0.05},{"s":"LS","z":15.55,"v":-0.045},{"s":"LS","z":15.6,"v":-0.04},{"s":"LS","z":15.65,"v":-0.045},{"s":"LS","z":15.7,"v":-0.05},{"s":"LS","z":15.75,"v":-0.055},{"s":"LS","z":15.8,"v":-0.06},{"s":"LS","z":15.85,"v":-0.06},{"s":"LS","z":15.9,"v":-0.055},{"s":"LS","z":15.95,"v":-0.05},{"s":"LS","z":16,"v":-0.05},{"s":"LS","z":16.05,"v":-0.045},{"s":"LS","z":16.1,"v":-0.04},{"s":"LS","z":16.15,"v":-0.035},{"s":"LS","z":16.2,"v":-0.03},{"s":"LS","z":16.25,"v":-0.025},{"s":"LS","z":16.3,"v":-0.02},{"s":"LS","z":16.35,"v":-0.01},{"s":"LS","z":16.4,"v":0},{"s":"LS","z":16.45,"v":0.01},{"s":"LS","z":16.5,"v":0.02},{"s":"LS","z":16.55,"v":0.01},{"s":"LS","z":16.6,"v":-0.01},{"s":"LS","z":16.65,"v":-0.03},{"s":"LS","z":16.7,"v":-0.04},{"s":"LS","z":16.75,"v":-0.045},{"s":"LS","z":16.8,"v":-0.05},{"s":"LS","z":16.85,"v":-0.05},{"s":"LS","z":16.9,"v":-0.045},{"s":"LS","z":16.95,"v":-0.04},{"s":"LS","z":17,"v":-0.035},{"s":"LS","z":17.05,"v":-0.03},{"s":"LS","z":17.45,"v":0.3},{"s":"LS","z":17.47,"v":0.32},{"s":"LS","z":17.55,"v":-0.03},{"s":"LS","z":17.6,"v":-0.04},{"s":"LS","z":17.65,"v":-0.05},{"s":"LS","z":17.7,"v":-0.06},{"s":"LS","z":17.75,"v":-0.07},{"s":"LS","z":17.8,"v":-0.075},{"s":"LS","z":17.85,"v":-0.08},{"s":"LS","z":17.9,"v":-0.075},{"s":"LS","z":17.95,"v":-0.07},{"s":"LS","z":18,"v":-0.07},{"s":"LS","z":18.05,"v":-0.065},{"s":"LS","z":18.1,"v":-0.07},{"s":"LS","z":18.15,"v":-0.065},{"s":"LS","z":18.2,"v":-0.06},{"s":"LS","z":18.25,"v":-0.065},{"s":"LS","z":18.3,"v":-0.06},{"s":"LS","z":18.35,"v":-0.055},{"s":"LS","z":18.4,"v":-0.06},{"s":"LS","z":18.45,"v":-0.055},{"s":"LS","z":18.5,"v":-0.05},{"s":"LS","z":18.55,"v":-0.055},{"s":"LS","z":18.6,"v":-0.05},{"s":"LS","z":18.65,"v":-0.055},{"s":"LS","z":18.7,"v":-0.05},{"s":"LS","z":18.75,"v":-0.06},{"s":"LS","z":18.8,"v":-0.055},{"s":"LS","z":18.85,"v":-0.05},{"s":"LS","z":18.9,"v":-0.055},{"s":"LS","z":18.95,"v":-0.05},{"s":"LS","z":19,"v":-0.045},{"s":"LS","z":19.05,"v":-0.04},{"s":"LS","z":19.1,"v":-0.03},{"s":"LS","z":19.12,"v":0},{"s":"LS","z":19.12,"v":0.03},{"s":"LS","z":19.12,"v":0.06},{"s":"LS","z":19.12,"v":0.08},{"s":"LS","z":19.12,"v":0.16},{"s":"LS","z":19.17,"v":0.27},{"s":"LS","z":19.25,"v":0.28},{"s":"LS","z":19.3,"v":0.3},{"s":"LS","z":19.35,"v":0.48},{"s":"LS","z":19.35,"v":0.53},{"s":"LS","z":19.4,"v":0.5},{"s":"LS","z":19.4,"v":0.55},{"s":"LS","z":19.45,"v":0.57},{"s":"LS","z":19.55,"v":0.41},{"s":"LS","z":19.55,"v":0.45},{"s":"LS","z":19.55,"v":0.5},{"s":"LS","z":19.6,"v":0.54},{"s":"LS","z":19.75,"v":0.52},{"s":"LS","z":19.8,"v":0.31},{"s":"LS","z":19.8,"v":0.36},{"s":"LS","z":19.85,"v":0.29},{"s":"LS","z":19.85,"v":0.34},{"s":"LS","z":19.85,"v":0.38},{"s":"LS","z":19.85,"v":0.64},{"s":"LS","z":19.9,"v":0.32},{"s":"LS","z":20.1,"v":0.27},{"s":"LS","z":20.2,"v":0.29},{"s":"LS","z":20.2,"v":0.34},{"s":"LS","z":20.2,"v":0.37},{"s":"LS","z":20.2,"v":0.59},{"s":"LS","z":20.25,"v":0.3},{"s":"LS","z":20.45,"v":0.4},{"s":"LS","z":20.45,"v":0.43},{"s":"LS","z":20.5,"v":0.56},{"s":"LS","z":20.5,"v":0.61},{"s":"LS","z":20.55,"v":0.57},{"s":"LS","z":20.6,"v":0},{"s":"LS","z":20.65,"v":0},{"s":"LS","z":20.7,"v":0},{"s":"LS","z":20.7,"v":0.28},{"s":"LS","z":20.75,"v":0},{"s":"LS","z":20.75,"v":0.29},{"s":"LS","z":20.85,"v":0.55},{"s":"LS","z":21,"v":0.6},{"s":"LS","z":21.2,"v":0.62},{"s":"LS","z":21.35,"v":0.35},{"s":"LS","z":21.35,"v":0.37},{"s":"LS","z":21.35,"v":0.39},{"s":"LS","z":21.55,"v":0.24},{"s":"LS","z":21.55,"v":0.41},{"s":"LS","z":21.6,"v":0.25},{"s":"LS","z":21.7,"v":0.64},{"s":"LS","z":21.9,"v":0.65},{"s":"LS","z":22,"v":0.22},{"s":"LS","z":22,"v":0.3},{"s":"LS","z":22,"v":0.39},{"s":"LS","z":22,"v":0.41},{"s":"LS","z":22.1,"v":0.29},{"s":"LS","z":22.2,"v":0.66},{"s":"LS","z":22.25,"v":0.33},{"s":"LS","z":22.25,"v":0.47},{"s":"LS","z":22.5,"v":0.64},{"s":"LS","z":22.7,"v":0.63},{"s":"LS","z":22.9,"v":0.63},{"s":"LS","z":23.05,"v":0.52},{"s":"LS","z":23.15,"v":0.41},{"s":"LS","z":23.4,"v":0.65},{"s":"LS","z":23.6,"v":0.66},{"s":"LS","z":23.8,"v":0.67},{"s":"LS","z":24,"v":0.65},{"s":"LS","z":24.2,"v":0.59},{"s":"LS","z":24.3,"v":0.2},{"s":"LS","z":24.4,"v":0.66},{"s":"LS","z":24.5,"v":0.67},{"s":"LS","z":24.6,"v":0.66},{"s":"LS","z":24.75,"v":0.53},{"s":"LS","z":24.85,"v":0.63},
{"s":"LA","z":19.15,"v":0.38},{"s":"LA","z":19.22,"v":0.42},{"s":"LA","z":19.22,"v":0.47},{"s":"LA","z":19.3,"v":0.51},{"s":"LA","z":19.38,"v":0.55},{"s":"LA","z":19.38,"v":0.58},{"s":"LA","z":19.45,"v":0.6},{"s":"LA","z":19.5,"v":0.54},{"s":"LA","z":19.5,"v":0.62},{"s":"LA","z":19.55,"v":0.66},{"s":"LA","z":19.6,"v":0.61},{"s":"LA","z":19.6,"v":0.69},{"s":"LA","z":19.65,"v":0.45},{"s":"LA","z":19.65,"v":0.57},{"s":"LA","z":19.7,"v":0.64},{"s":"LA","z":19.7,"v":0.72},{"s":"LA","z":19.75,"v":0.66},{"s":"LA","z":20,"v":0.04},{"s":"LA","z":20.05,"v":0.07},{"s":"LA","z":20.08,"v":0.1},{"s":"LA","z":20.02,"v":0.12},{"s":"LA","z":20.3,"v":0.45},{"s":"LA","z":20.35,"v":0.64},{"s":"LA","z":20.35,"v":0.7},{"s":"LA","z":20.4,"v":0.6},{"s":"LA","z":20.45,"v":0.67},{"s":"LA","z":20.5,"v":0.59},{"s":"LA","z":20.55,"v":0.63},{"s":"LA","z":20.6,"v":0.66},{"s":"LA","z":20.7,"v":0.72},{"s":"LA","z":20.7,"v":0.58},{"s":"LA","z":20.75,"v":0.53},{"s":"LA","z":20.75,"v":0.61},{"s":"LA","z":20.8,"v":0.55},{"s":"LA","z":20.8,"v":0.64},{"s":"LA","z":20.9,"v":0.57},{"s":"LA","z":20.9,"v":0.63},{"s":"LA","z":21,"v":0.66},{"s":"LA","z":21.05,"v":0.59},{"s":"LA","z":21.1,"v":0.61},{"s":"LA","z":21.1,"v":0.68},{"s":"LA","z":21.2,"v":0.53},{"s":"LA","z":21.2,"v":0.57},{"s":"LA","z":21.25,"v":0.64},{"s":"LA","z":21.35,"v":0.54},{"s":"LA","z":21.35,"v":0.6},{"s":"LA","z":21.45,"v":0.62},{"s":"LA","z":21.45,"v":0.7},{"s":"LA","z":21.55,"v":0.65},{"s":"LA","z":21.55,"v":0.72},{"s":"LA","z":21.65,"v":0.6},{"s":"LA","z":21.65,"v":0.74},{"s":"LA","z":21.75,"v":0.63},{"s":"LA","z":21.75,"v":0.69},{"s":"LA","z":21.85,"v":0.62},{"s":"LA","z":21.85,"v":0.71},{"s":"LA","z":21.95,"v":0.66},{"s":"LA","z":22.05,"v":0.64},{"s":"LA","z":22.15,"v":0.62},{"s":"LA","z":22.15,"v":0.7},{"s":"LA","z":22.15,"v":0.78},{"s":"LA","z":22.25,"v":0.66},{"s":"LA","z":22.25,"v":0.72},{"s":"LA","z":22.35,"v":0.6},{"s":"LA","z":22.35,"v":0.68},{"s":"LA","z":22.45,"v":0.66},{"s":"LA","z":22.45,"v":0.71},{"s":"LA","z":22.55,"v":0.63},{"s":"LA","z":22.65,"v":0.62},{"s":"LA","z":22.65,"v":0.69},{"s":"LA","z":22.75,"v":0.65},{"s":"LA","z":22.85,"v":0.58},{"s":"LA","z":22.85,"v":0.62},{"s":"LA","z":22.85,"v":0.68},{"s":"LA","z":22.95,"v":0.61},{"s":"LA","z":22.95,"v":0.67},{"s":"LA","z":22.98,"v":0.79},{"s":"LA","z":23.05,"v":0.65},{"s":"LA","z":23.15,"v":0.6},{"s":"LA","z":23.15,"v":0.7},{"s":"LA","z":23.25,"v":0.56},{"s":"LA","z":23.25,"v":0.64},{"s":"LA","z":23.35,"v":0.66},{"s":"LA","z":23.35,"v":0.74},{"s":"LA","z":23.45,"v":0.63},{"s":"LA","z":23.45,"v":0.77},{"s":"LA","z":23.5,"v":0.55},{"s":"LA","z":23.5,"v":0.6},{"s":"LA","z":23.6,"v":0.68},{"s":"LA","z":23.7,"v":0.71},{"s":"LA","z":23.7,"v":0.74},{"s":"LA","z":23.8,"v":0.67},{"s":"LA","z":23.9,"v":0.56},{"s":"LA","z":23.9,"v":0.62},{"s":"LA","z":23.95,"v":0.7},{"s":"LA","z":24.05,"v":0.66},{"s":"LA","z":24.1,"v":0.8},{"s":"LA","z":24.15,"v":0.84},{"s":"LA","z":24.15,"v":0.71},{"s":"LA","z":24.3,"v":0.48},{"s":"LA","z":24.3,"v":0.68},{"s":"LA","z":24.4,"v":0.7},{"s":"LA","z":24.5,"v":0.64},{"s":"LA","z":24.5,"v":0.72},{"s":"LA","z":24.6,"v":0.69},{"s":"LA","z":24.7,"v":0.63},{"s":"LA","z":24.7,"v":0.67},{"s":"LA","z":24.8,"v":0.6},{"s":"LA","z":24.8,"v":0.71},{"s":"LA","z":24.85,"v":0.66},{"s":"LA","z":24.9,"v":0.56},{"s":"LA","z":24.9,"v":0.69},{"s":"LA","z":24.95,"v":0.62},{"s":"LA","z":24.95,"v":0.73},
{"s":"SL","z":14.77,"v":0.12},{"s":"SL","z":15.35,"v":-0.02},{"s":"SL","z":16.5,"v":0.03},{"s":"SL","z":16.55,"v":0.04},{"s":"SL","z":17.05,"v":0.08},{"s":"SL","z":17.05,"v":0.1},{"s":"SL","z":17.12,"v":0.06},{"s":"SL","z":17.12,"v":0.12},{"s":"SL","z":17.2,"v":0.11},{"s":"SL","z":17.2,"v":0.15},{"s":"SL","z":17.3,"v":0.17},{"s":"SL","z":17.3,"v":0.19},{"s":"SL","z":17.38,"v":0.05},{"s":"SL","z":17.38,"v":0.09},{"s":"SL","z":17.47,"v":0.07},{"s":"SL","z":17.52,"v":0.1},{"s":"SL","z":18.04,"v":0.02},{"s":"SL","z":18.04,"v":0.64},{"s":"SL","z":19.95,"v":0.03},{"s":"SL","z":19.95,"v":0.06},{"s":"SL","z":19.98,"v":0.2},{"s":"SL","z":20.02,"v":0.15},{"s":"SL","z":20.02,"v":0.22},{"s":"SL","z":20.08,"v":0.01},{"s":"SL","z":20.08,"v":0.09},{"s":"SL","z":20.8,"v":0.16},{"s":"SL","z":23.1,"v":0.07},{"s":"SL","z":23.1,"v":0.1},{"s":"SL","z":23.1,"v":0.13},{"s":"SL","z":23.1,"v":0.17},{"s":"SL","z":24.27,"v":0.04},{"s":"SL","z":24.27,"v":0.07},{"s":"SL","z":24.27,"v":0.22}
]
},
"spacing":110,
"resolve":{"scale":{"shape":"independent","fill":"independent","stroke":"independent"},"legend":{"shape":"independent","fill":"independent","stroke":"independent"}},
"hconcat":[
{"width":218,"height":580,
"title":{"text":"a. Résistance de cône qc","orient":"bottom","frame":"group","offset":10},
"data":{"name":"a"},
"mark":{"type":"point","filled":false,"strokeWidth":0.8,"size":24,"opacity":1},
"encoding":{
"x":{"field":"v","type":"quantitative","scale":{"domain":[0,20],"nice":false,"zero":false},"axis":{"orient":"top","title":"Résistance de cône qc (MPa)","values":[0,5,10,15,20]}},
"y":{"field":"z","type":"quantitative","scale":{"domain":[10,25],"reverse":true,"nice":false,"zero":false},"axis":{"title":"Profondeur z (m)","values":[10,11,12,13,14,15,16,17,18,19,20,21,22,23,24,25]}},
"shape":{"field":"s","type":"nominal","scale":{"domain":["LS","LA","SL"],"range":["circle","square","triangle-up"]},"legend":{"title":null,"orient":"top-right","offset":10}},
"fill":{"field":"s","type":"nominal","scale":{"domain":["LS","LA","SL"],"range":["black","white","white"]},"legend":{"title":null,"orient":"top-right","offset":10}},
"stroke":{"field":"s","type":"nominal","scale":{"domain":["LS","LA","SL"],"range":["black","black","black"]},"legend":{"title":null,"orient":"top-right","offset":10}}
}},
{"width":217,"height":580,
"title":{"text":"b. Frottement latéral fₛ","orient":"bottom","frame":"group","offset":10},
"data":{"name":"b"},
"mark":{"type":"point","filled":false,"strokeWidth":0.8,"size":24,"opacity":1},
"encoding":{
"x":{"field":"v","type":"quantitative","scale":{"domain":[0,0.15],"nice":false,"zero":false},"axis":{"orient":"top","title":"Frottement latéral fs (MPa)","values":[0,0.05,0.1,0.15],"labelExpr":"replace(format(datum.value,'~g'),'.',',')"}},
"y":{"field":"z","type":"quantitative","scale":{"domain":[10,25],"reverse":true,"nice":false,"zero":false},"axis":{"title":"Profondeur z (m)","values":[10,11,12,13,14,15,16,17,18,19,20,21,22,23,24,25]}},
"shape":{"field":"s","type":"nominal","scale":{"domain":["LS","LA","SL"],"range":["circle","square","triangle-up"]},"legend":{"title":null,"orient":"top-right","offset":10}},
"fill":{"field":"s","type":"nominal","scale":{"domain":["LS","LA","SL"],"range":["black","white","white"]},"legend":{"title":null,"orient":"top-right","offset":10}},
"stroke":{"field":"s","type":"nominal","scale":{"domain":["LS","LA","SL"],"range":["black","black","black"]},"legend":{"title":null,"orient":"top-right","offset":10}}
}},
{"width":217,"height":580,
"title":{"text":"c. Pression interstitielle u₂","orient":"bottom","frame":"group","offset":10},
"layer":[
{"mark":{"type":"rule","color":"#666","strokeWidth":1.5},"encoding":{"x":{"datum":0,"type":"quantitative"}}},
{"data":{"name":"c"},
"mark":{"type":"point","filled":false,"strokeWidth":0.8,"size":24,"opacity":1},
"encoding":{
"x":{"field":"v","type":"quantitative","scale":{"domain":[-0.5,1.5],"nice":false,"zero":false},"axis":{"orient":"top","title":"Pression interstitielle u₂  (MPa)","values":[-0.5,0,0.5,1,1.5],"labelExpr":"replace(replace(format(datum.value,'~g'),'.',','),'−','-')"}},
"y":{"field":"z","type":"quantitative","scale":{"domain":[10,25],"reverse":true,"nice":false,"zero":false},"axis":{"title":"Profondeur z (m)","values":[10,11,12,13,14,15,16,17,18,19,20,21,22,23,24,25]}},
"shape":{"field":"s","type":"nominal","scale":{"domain":["LS","LA","SL"],"range":["circle","square","triangle-up"]},"legend":{"title":null,"orient":"top-right","offset":10}},
"fill":{"field":"s","type":"nominal","scale":{"domain":["LS","LA","SL"],"range":["black","white","white"]},"legend":{"title":null,"orient":"top-right","offset":10}},
"stroke":{"field":"s","type":"nominal","scale":{"domain":["LS","LA","SL"],"range":["black","black","black"]},"legend":{"title":null,"orient":"top-right","offset":10}}
}}
]}
]
}
